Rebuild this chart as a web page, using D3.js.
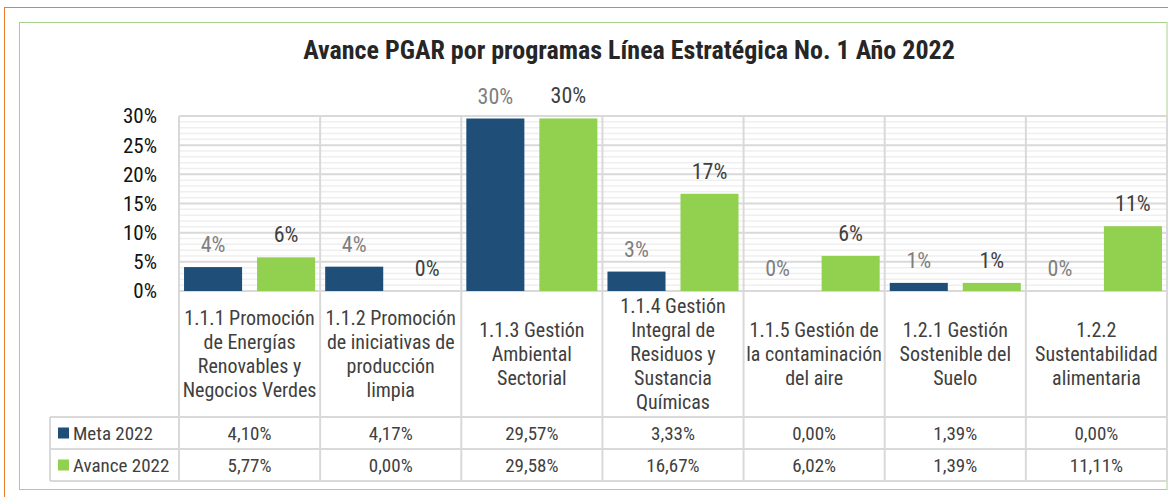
<!DOCTYPE html>
<html>
<head>
<meta charset="utf-8">
<script src="https://cdn.jsdelivr.net/npm/d3@7"></script>
<style>
  body { margin: 0; background: #fff; }
  text { font-family: "Liberation Sans Narrow", "Arial Narrow", "Roboto Condensed", sans-serif; }
</style>
</head>
<body>
<svg id="chart" width="1168" height="497"></svg>
<script>
// data
const categories = [
  ["1.1.1 Promoción", "de Energías", "Renovables y", "Negocios Verdes"],
  ["1.1.2 Promoción", "de iniciativas de", "producción", "limpia"],
  ["1.1.3 Gestión", "Ambiental", "Sectorial"],
  ["1.1.4 Gestión", "Integral de", "Residuos y", "Sustancia", "Químicas"],
  ["1.1.5 Gestión de", "la contaminación", "del aire"],
  ["1.2.1 Gestión", "Sostenible del", "Suelo"],
  ["1.2.2", "Sustentabilidad", "alimentaria"]
];
const meta2022 = [4.10, 4.17, 29.57, 3.33, 0.00, 1.39, 0.00];
const avance2022 = [5.77, 0.00, 29.58, 16.67, 6.02, 1.39, 11.11];
const seriesNames = ["Meta 2022", "Avance 2022"];
const yTicks = [0, 5, 10, 15, 20, 25, 30];

const colors = ["#1F4E79", "#92D050"];
const labelColors = ["#7f7f7f", "#404040"];
const gridColor = "#d9d9d9";

const svg = d3.select("#chart");
const plotLeft = 179, plotRight = 1167, plotTop = 116, plotBottom = 291;
const catBottom = 417, rowH = 32;

// outer frames
svg.append("rect").attr("x", 4.5).attr("y", 7.5).attr("width", 1200).attr("height", 600)
  .attr("fill", "none").attr("stroke", "#ED7D31").attr("stroke-width", 1);
svg.append("rect").attr("x", 19.5).attr("y", 22.5).attr("width", 1147.5).attr("height", 467)
  .attr("fill", "#fff").attr("stroke", "#A9D18E").attr("stroke-width", 1);

const x = d3.scaleBand().domain(d3.range(categories.length)).range([plotLeft, plotRight]);
const xs = d3.scaleBand().domain([0, 1]).range([0, x.bandwidth()])
  .paddingInner(0.205).paddingOuter(0.069);
const y = d3.scaleLinear().domain([0, 30]).range([plotBottom, plotTop]);

// minor grid (every 1%)
svg.append("g").selectAll("line")
  .data(d3.range(1, 30).filter(v => v % 5 !== 0))
  .join("line")
  .attr("x1", plotLeft).attr("x2", plotRight)
  .attr("y1", d => y(d)).attr("y2", d => y(d))
  .attr("stroke", "#efefef").attr("stroke-width", 1.5);

// major grid
svg.append("g").selectAll("line")
  .data(yTicks)
  .join("line")
  .attr("x1", plotLeft).attr("x2", plotRight)
  .attr("y1", d => y(d)).attr("y2", d => y(d))
  .attr("stroke", gridColor).attr("stroke-width", 2);

// y axis labels
svg.append("g").selectAll("text")
  .data(yTicks)
  .join("text")
  .attr("x", 157).attr("y", d => y(d))
  .attr("dy", "0.35em")
  .attr("text-anchor", "end")
  .style("font-size", "21px")
  .attr("fill", "#111")
  .text(d => d + "%");

// table lines
const boundaries = d3.range(categories.length).map(i => x(i)).concat([plotRight]);
svg.append("g").selectAll("line")
  .data(boundaries)
  .join("line")
  .attr("x1", d => d).attr("x2", d => d)
  .attr("y1", plotTop).attr("y2", catBottom + 2 * rowH)
  .attr("stroke", gridColor).attr("stroke-width", 2);
const tableRows = [catBottom, catBottom + rowH, catBottom + 2 * rowH];
svg.append("g").selectAll("line")
  .data(tableRows)
  .join("line")
  .attr("x1", 50).attr("x2", plotRight)
  .attr("y1", d => d).attr("y2", d => d)
  .attr("stroke", gridColor).attr("stroke-width", 2);
svg.append("line").attr("x1", 50).attr("x2", 50)
  .attr("y1", catBottom).attr("y2", catBottom + 2 * rowH)
  .attr("stroke", gridColor).attr("stroke-width", 2);

// bars
const series = [meta2022, avance2022];
series.forEach((vals, s) => {
  svg.append("g").selectAll("rect")
    .data(vals)
    .join("rect")
    .attr("x", (d, i) => x(i) + xs(s))
    .attr("width", xs.bandwidth())
    .attr("y", d => y(d))
    .attr("height", d => y(0) - y(d))
    .attr("fill", colors[s]);

  svg.append("g").selectAll("text")
    .data(vals)
    .join("text")
    .attr("x", (d, i) => x(i) + xs(s) + xs.bandwidth() / 2)
    .attr("y", d => y(d) - 15)
    .attr("text-anchor", "middle")
    .style("font-size", "22px")
    .attr("fill", labelColors[s])
    .text(d => Math.round(d) + "%");
});

// category labels
const lineH = 24;
const catMid = (plotBottom + catBottom) / 2;
svg.append("g").selectAll("text")
  .data(categories)
  .join("text")
  .attr("text-anchor", "middle")
  .style("font-size", "20px")
  .attr("fill", "#404040")
  .each(function(lines, i) {
    const t = d3.select(this);
    const y0 = catMid - (lines.length - 1) * lineH / 2;
    lines.forEach((ln, k) => {
      t.append("tspan")
        .attr("x", x(i) + x.bandwidth() / 2)
        .attr("y", y0 + k * lineH)
        .attr("dy", "0.35em")
        .text(ln);
    });
  });

// table values
const fmt = d3.formatLocale({ decimal: ",", thousands: ".", grouping: [3], currency: ["", ""] }).format(".2f");
series.forEach((vals, s) => {
  const rowY = catBottom + rowH * s + rowH / 2;
  svg.append("g").selectAll("text")
    .data(vals)
    .join("text")
    .attr("x", (d, i) => x(i) + x.bandwidth() / 2)
    .attr("y", rowY)
    .attr("dy", "0.35em")
    .attr("text-anchor", "middle")
    .style("font-size", "19px")
    .attr("fill", "#404040")
    .text(d => fmt(d) + "%");

  svg.append("rect")
    .attr("x", 58).attr("y", rowY - 5.5)
    .attr("width", 11).attr("height", 11)
    .attr("fill", colors[s]);
  svg.append("text")
    .attr("x", 73).attr("y", rowY)
    .attr("dy", "0.35em")
    .style("font-size", "19px")
    .attr("fill", "#404040")
    .text(seriesNames[s]);
});

// title
svg.append("text")
  .attr("x", 629).attr("y", 59)
  .attr("text-anchor", "middle")
  .style("font-size", "26px")
  .style("font-weight", "bold")
  .attr("fill", "#262626")
  .text("Avance PGAR por programas Línea Estratégica No. 1 Año 2022");
</script>
</body>
</html>
